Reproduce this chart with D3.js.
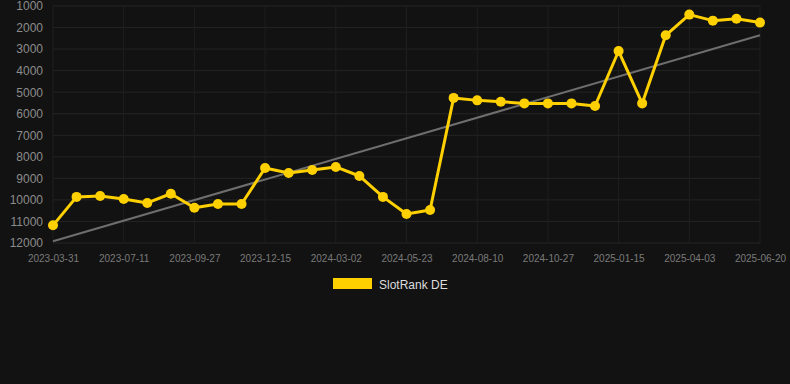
<!DOCTYPE html>
<html><head><meta charset="utf-8">
<script src="https://cdn.jsdelivr.net/npm/d3@7"></script>
<style>
html,body{margin:0;padding:0;background:#121212;}
svg{display:block;font-family:"Liberation Sans",Arial,sans-serif;}
</style></head>
<body>
<svg id="c" width="790" height="384"></svg>
<script>
const dates = ["2023-03-31","2023-05-04","2023-06-07","2023-07-11","2023-08-06","2023-09-01","2023-09-27","2023-10-23","2023-11-19","2023-12-15","2024-01-10","2024-02-05","2024-03-02","2024-03-29","2024-04-26","2024-05-23","2024-06-18","2024-07-15","2024-08-10","2024-09-05","2024-10-01","2024-10-27","2024-11-23","2024-12-20","2025-01-15","2025-02-10","2025-03-08","2025-04-03","2025-04-29","2025-05-25","2025-06-20"];
const rankDE = [11180,9860,9820,9955,10140,9715,10365,10190,10190,8520,8750,8610,8470,8890,9860,10650,10470,5265,5380,5440,5520,5520,5520,5640,3090,5520,2360,1400,1680,1590,1770];
const yTicks = [1000,2000,3000,4000,5000,6000,7000,8000,9000,10000,11000,12000];
const seriesName = "SlotRank DE";

(function () {
const svg = d3.select("#c");
const pl = 53, pr = 760, pt = 6, pb = 243;
const x = d3.scalePoint().domain(dates).range([pl, pr]);
const y = d3.scaleLinear().domain([1000, 12000]).range([pt, pb]);

// grid
const g = svg.append("g");
g.selectAll("line.h").data(yTicks).enter().append("line")
  .attr("x1", pl).attr("x2", pr)
  .attr("y1", d => y(d)).attr("y2", d => y(d))
  .attr("stroke", "#242424").attr("stroke-width", 1);
const xTickLabels = dates.filter((d, i) => i % 3 === 0);
g.selectAll("line.v").data(xTickLabels).enter().append("line")
  .attr("x1", d => x(d)).attr("x2", d => x(d))
  .attr("y1", pt).attr("y2", pb)
  .attr("stroke", "#1f1f1f").attr("stroke-width", 1);

// axes
const yAxis = d3.axisLeft(y).tickValues(yTicks).tickSize(0).tickPadding(10).tickFormat(d => d);
svg.append("g").attr("transform", `translate(${pl},0)`).call(yAxis)
  .call(s => s.select(".domain").remove())
  .selectAll("text").attr("fill", "#8c8c8c").attr("font-size", 12)
  .attr("font-family", "'Liberation Sans',Arial,sans-serif");
const xAxis = d3.axisBottom(x).tickValues(xTickLabels).tickSize(0).tickPadding(12);
svg.append("g").attr("transform", `translate(0,${pb})`).call(xAxis)
  .call(s => s.select(".domain").remove())
  .selectAll("text").attr("fill", "#7a7a7a").attr("font-size", 10)
  .attr("font-family", "'Liberation Sans',Arial,sans-serif");

// trend (least squares)
const n = rankDE.length;
const mx = d3.mean(rankDE, (d, i) => i), my = d3.mean(rankDE);
const slope = d3.sum(rankDE, (d, i) => (i - mx) * (d - my)) / d3.sum(rankDE, (d, i) => (i - mx) * (i - mx));
const trend = [0, n - 1].map(i => [x(dates[i]), y(my + slope * (i - mx))]);
svg.append("path").attr("d", d3.line()(trend))
  .attr("stroke", "#6e6e6e").attr("stroke-width", 2).attr("fill", "none");

// series
const color = "#FFD000";
svg.append("path").datum(rankDE)
  .attr("d", d3.line().x((d, i) => x(dates[i])).y(d => y(d)))
  .attr("stroke", color).attr("stroke-width", 3).attr("fill", "none")
  .attr("stroke-linejoin", "round");
svg.selectAll("circle.p").data(rankDE).enter().append("circle")
  .attr("cx", (d, i) => x(dates[i])).attr("cy", d => y(d)).attr("r", 5)
  .attr("fill", color);

// legend
svg.append("rect").attr("x", 333).attr("y", 278).attr("width", 39).attr("height", 11).attr("fill", color);
svg.append("text").attr("x", 379).attr("y", 289).text(seriesName)
  .attr("fill", "#dddddd").attr("font-size", 12);
})();
</script>
</body></html>
